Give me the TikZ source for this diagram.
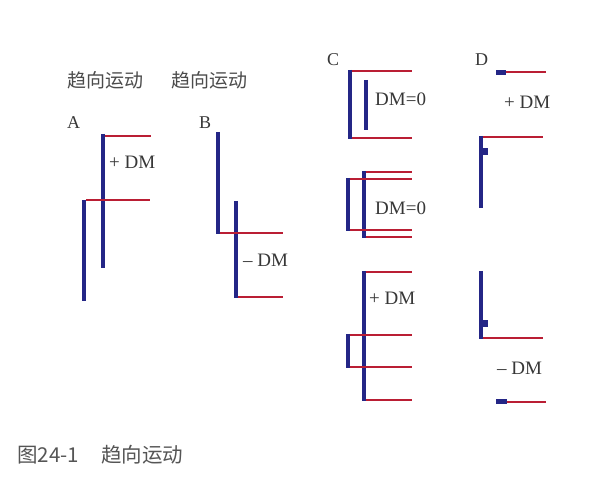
\documentclass[tikz,border=0pt]{standalone}
\usepackage{fontspec}
\setmainfont{Liberation Serif}
\newfontfamily\cjk{Noto Sans CJK SC}
\definecolor{barblue}{RGB}{36,38,134}
\definecolor{linered}{RGB}{186,30,52}
\definecolor{textgray}{RGB}{55,55,55}
\begin{document}
\begin{tikzpicture}[x=1pt,y=-1pt,
	bluebar/.style={draw=barblue,line width=4pt},
	redline/.style={draw=linered,line width=2pt},
	dmlabel/.style={inner sep=0pt,anchor=base west,text=textgray,font=\fontsize{19}{19}\selectfont},
	caselabel/.style={inner sep=0pt,anchor=base west,text=textgray,font=\fontsize{18}{18}\selectfont},
	cjklabel/.style={inner sep=0pt,anchor=west,text=textgray!90,font=\cjk\fontsize{19}{19}\selectfont}]
				\useasboundingbox (0,0) rectangle (598,484);
				\node[cjklabel] (headA) at (67,80) {趋向运动};
				\node[cjklabel] (headB) at (171,80) {趋向运动};
				% A
				\node[caselabel] (caseA) at (67,129) {A};
				\draw[bluebar] (103,134) -- (103,268);
				\draw[bluebar] (84,200) -- (84,301);
				\draw[redline] (105,136) -- (151,136);
				\draw[redline] (86,200) -- (150,200);
				\node[dmlabel] (dmA) at (109,169) {+ DM};
				% B
				\node[caselabel] (caseB) at (199,129) {B};
				\draw[bluebar] (218,132) -- (218,234);
				\draw[bluebar] (236,201) -- (236,298);
				\draw[redline] (220,233) -- (283,233);
				\draw[redline] (238,297) -- (283,297);
				\node[dmlabel] (dmB) at (243,267) {– DM};
				% C
				\node[caselabel] (caseC) at (327,66) {C};
				\draw[bluebar] (350,70) -- (350,139);
				\draw[bluebar] (366,80) -- (366,130);
				\draw[redline] (352,71) -- (412,71);
				\draw[redline] (352,138) -- (412,138);
				\node[dmlabel] (dmCa) at (375,106) {DM=0};
				\draw[bluebar] (348,178) -- (348,231);
				\draw[bluebar] (364,171) -- (364,238);
				\draw[redline] (366,172) -- (412,172);
				\draw[redline] (350,179) -- (412,179);
				\draw[redline] (350,230) -- (412,230);
				\draw[redline] (366,237) -- (412,237);
				\node[dmlabel] (dmCb) at (375,215) {DM=0};
				\draw[bluebar] (364,271) -- (364,401);
				\draw[bluebar] (348,334) -- (348,368);
				\draw[redline] (366,272) -- (412,272);
				\draw[redline] (350,335) -- (412,335);
				\draw[redline] (350,367) -- (412,367);
				\draw[redline] (366,400) -- (412,400);
				\node[dmlabel] (dmCc) at (369,305) {+ DM};
				% D
				\node[caselabel] (caseD) at (475,66) {D};
				\fill[barblue] (496,70) rectangle (506,75);
				\draw[redline] (506,72) -- (546,72);
				\node[dmlabel] (dmDa) at (504,109) {+ DM};
				\draw[bluebar] (481,136) -- (481,208);
				\draw[redline] (483,137) -- (543,137);
				\fill[barblue] (483,148) rectangle (488,155);
				\draw[bluebar] (481,271) -- (481,339);
				\draw[redline] (483,338) -- (543,338);
				\fill[barblue] (483,320) rectangle (488,327);
				\node[dmlabel] (dmDb) at (497,374) {– DM};
				\fill[barblue] (496,399) rectangle (507,404);
				\draw[redline] (507,402) -- (546,402);
				% caption
				\node[cjklabel,font=\cjk\fontsize{20.5}{20.5}\selectfont,text=textgray!85] (caption) at (17,455) {图24-1\hspace{1.1em}趋向运动};
			\end{tikzpicture}
\end{document}
